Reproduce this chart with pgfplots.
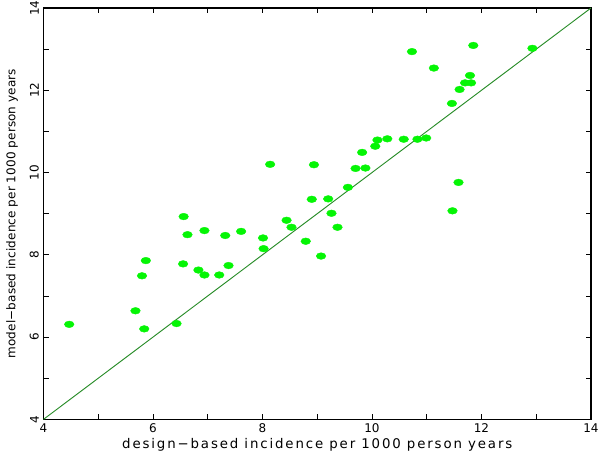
\documentclass[border=0pt]{standalone}
\usepackage{pgfplots}
\pgfplotsset{compat=1.18}
\usetikzlibrary{calc}
\usepackage{fontspec}
\setmainfont{DejaVu Sans}
\newfontfamily\xlab[LetterSpace=14]{DejaVu Sans}
\newfontfamily\ylab[LetterSpace=1]{DejaVu Sans}
\definecolor{pt}{RGB}{5,245,5}
\definecolor{ln}{RGB}{40,140,40}
\begin{document}
\begin{tikzpicture}
\begin{axis}[
  name=ax,
  scale only axis,
  width=410.6pt, height=308.5pt,
  xmin=4, xmax=14, ymin=4, ymax=14,
  xtick={4,6,...,14}, ytick={4,6,...,14},
  minor xtick={5,7,...,13}, minor ytick={5,7,...,13},
  tick pos=both, tick align=inside,
  major tick length=4pt, minor tick length=4pt,
  axis line style={line width=1.1pt},
  tick style={black, line width=0.6pt},
  /pgf/number format/assume math mode=true,
  ticklabel style={font=\fontsize{9}{10}\selectfont},
  yticklabel style={rotate=90, anchor=south},
  xlabel={\xlab\fontsize{10}{12}\selectfont design\textminus based incidence per 1000 person years},
  ylabel={\ylab\fontsize{9}{11}\selectfont model\textminus based incidence per 1000 person years},
  xlabel style={yshift=3pt},
  ylabel style={yshift=2pt},
]
\addplot[ln, line width=0.7pt] coordinates {(4,4) (14,14)};
\addplot[only marks, color=pt, mark=*, mark size=2.5pt, mark options={xscale=1.45, draw=pt, fill=pt, line width=0.3pt}] coordinates {
(4.47,6.31) (5.68,6.64) (5.80,7.49) (5.84,6.20) (5.87,7.86) (6.43,6.33)
(6.55,7.78) (6.56,8.93) (6.63,8.49) (6.83,7.63) (6.94,7.51) (6.94,8.59)
(7.21,7.51) (7.32,8.47) (7.38,7.74) (7.61,8.57) (8.01,8.41) (8.02,8.15)
(8.14,10.20) (8.44,8.84) (8.53,8.67) (8.79,8.33) (8.90,9.35) (8.94,10.19)
(9.07,7.97) (9.20,9.36) (9.26,9.01) (9.37,8.67) (9.56,9.64) (9.70,10.10)
(9.82,10.49) (9.88,10.11) (10.06,10.64) (10.10,10.79) (10.28,10.82) (10.58,10.81)
(10.73,12.94) (10.83,10.81) (10.99,10.84) (11.13,12.54) (11.46,11.68) (11.47,9.07)
(11.58,9.76) (11.60,12.02) (11.70,12.18) (11.79,12.36) (11.81,12.18) (11.85,13.09)
(12.93,13.02)
};
\end{axis}
\pgfresetboundingbox
\path ($(ax.south west)+(-32.6pt,-28.3pt)$) rectangle ($(ax.north east)+(6.75pt,6pt)$);
\end{tikzpicture}
\end{document}
